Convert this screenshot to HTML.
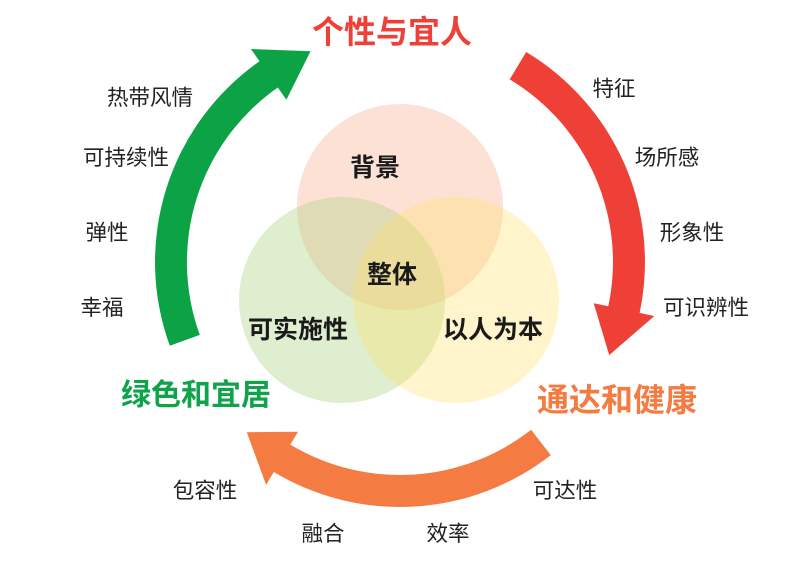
<!DOCTYPE html>
<html><head><meta charset="utf-8"><style>
html,body{margin:0;padding:0;background:#fff;}
body{width:800px;height:562px;overflow:hidden;font-family:"Liberation Sans","Noto Sans CJK SC",sans-serif;}
</style></head><body>
<svg id="s" width="800" height="562" viewBox="0 0 800 562" xmlns="http://www.w3.org/2000/svg" font-family="Liberation Sans, Noto Sans CJK SC, sans-serif">
<circle cx="400" cy="207" r="103" fill="rgb(250,170,135)" fill-opacity="0.35"/>
<circle cx="342" cy="300" r="103" fill="rgb(170,210,130)" fill-opacity="0.38"/>
<circle cx="456" cy="300" r="103" fill="rgb(255,225,110)" fill-opacity="0.36"/>
<g id="arrows"></g>
<g font-weight="bold" fill="#1a1a1a" font-size="25" text-anchor="middle">
<text x="375" y="176">背景</text>
<text x="392" y="283">整体</text>
<text x="298" y="338">可实施性</text>
<text x="493" y="338">以人为本</text>
</g>
<g font-weight="bold" text-anchor="middle">
<text x="392" y="43" fill="#ee4036" font-size="32">个性与宜人</text>
<text x="196" y="405" fill="#0ea44a" font-size="30">绿色和宜居</text>
<text x="617" y="411" fill="#f47b42" font-size="32">通达和健康</text>
</g>
<g fill="#222" font-size="21.5" text-anchor="middle">
<text x="150" y="105">热带风情</text>
<text x="126" y="165">可持续性</text>
<text x="107" y="240">弹性</text>
<text x="102" y="315">幸福</text>
<text x="614" y="96">特征</text>
<text x="667" y="165">场所感</text>
<text x="692" y="240">形象性</text>
<text x="706" y="315">可识辨性</text>
<text x="205" y="498">包容性</text>
<text x="565" y="498">可达性</text>
<text x="323" y="541">融合</text>
<text x="448" y="541">效率</text>
</g>
</svg>
<script>
(function(){
var cx=400,cy=262,R=229,w=16,hw=31;
function p(a,r){var t=a*Math.PI/180;return (cx+r*Math.cos(t)).toFixed(1)+","+(cy+r*Math.sin(t)).toFixed(1);}
function arrow(a0,a1,a2,col){
 var Ro=R+w,Ri=R-w;
 var d="M"+p(a0,Ro)+" A"+Ro+","+Ro+" 0 0 1 "+p(a1,Ro)+" L"+p(a1,R+hw)+" L"+p(a2,R)+" L"+p(a1,R-hw)+" L"+p(a1,Ri)+" A"+Ri+","+Ri+" 0 0 0 "+p(a0,Ri)+" Z";
 return '<path d="'+d+'" fill="'+col+'"/>';
}
var h=arrow(160,235,247,"#0ca346")+arrow(301,372,384,"#ee4036")+arrow(52,121,132,"#f47b42");
document.getElementById("arrows").innerHTML=h;
})();
</script>
</body></html>
